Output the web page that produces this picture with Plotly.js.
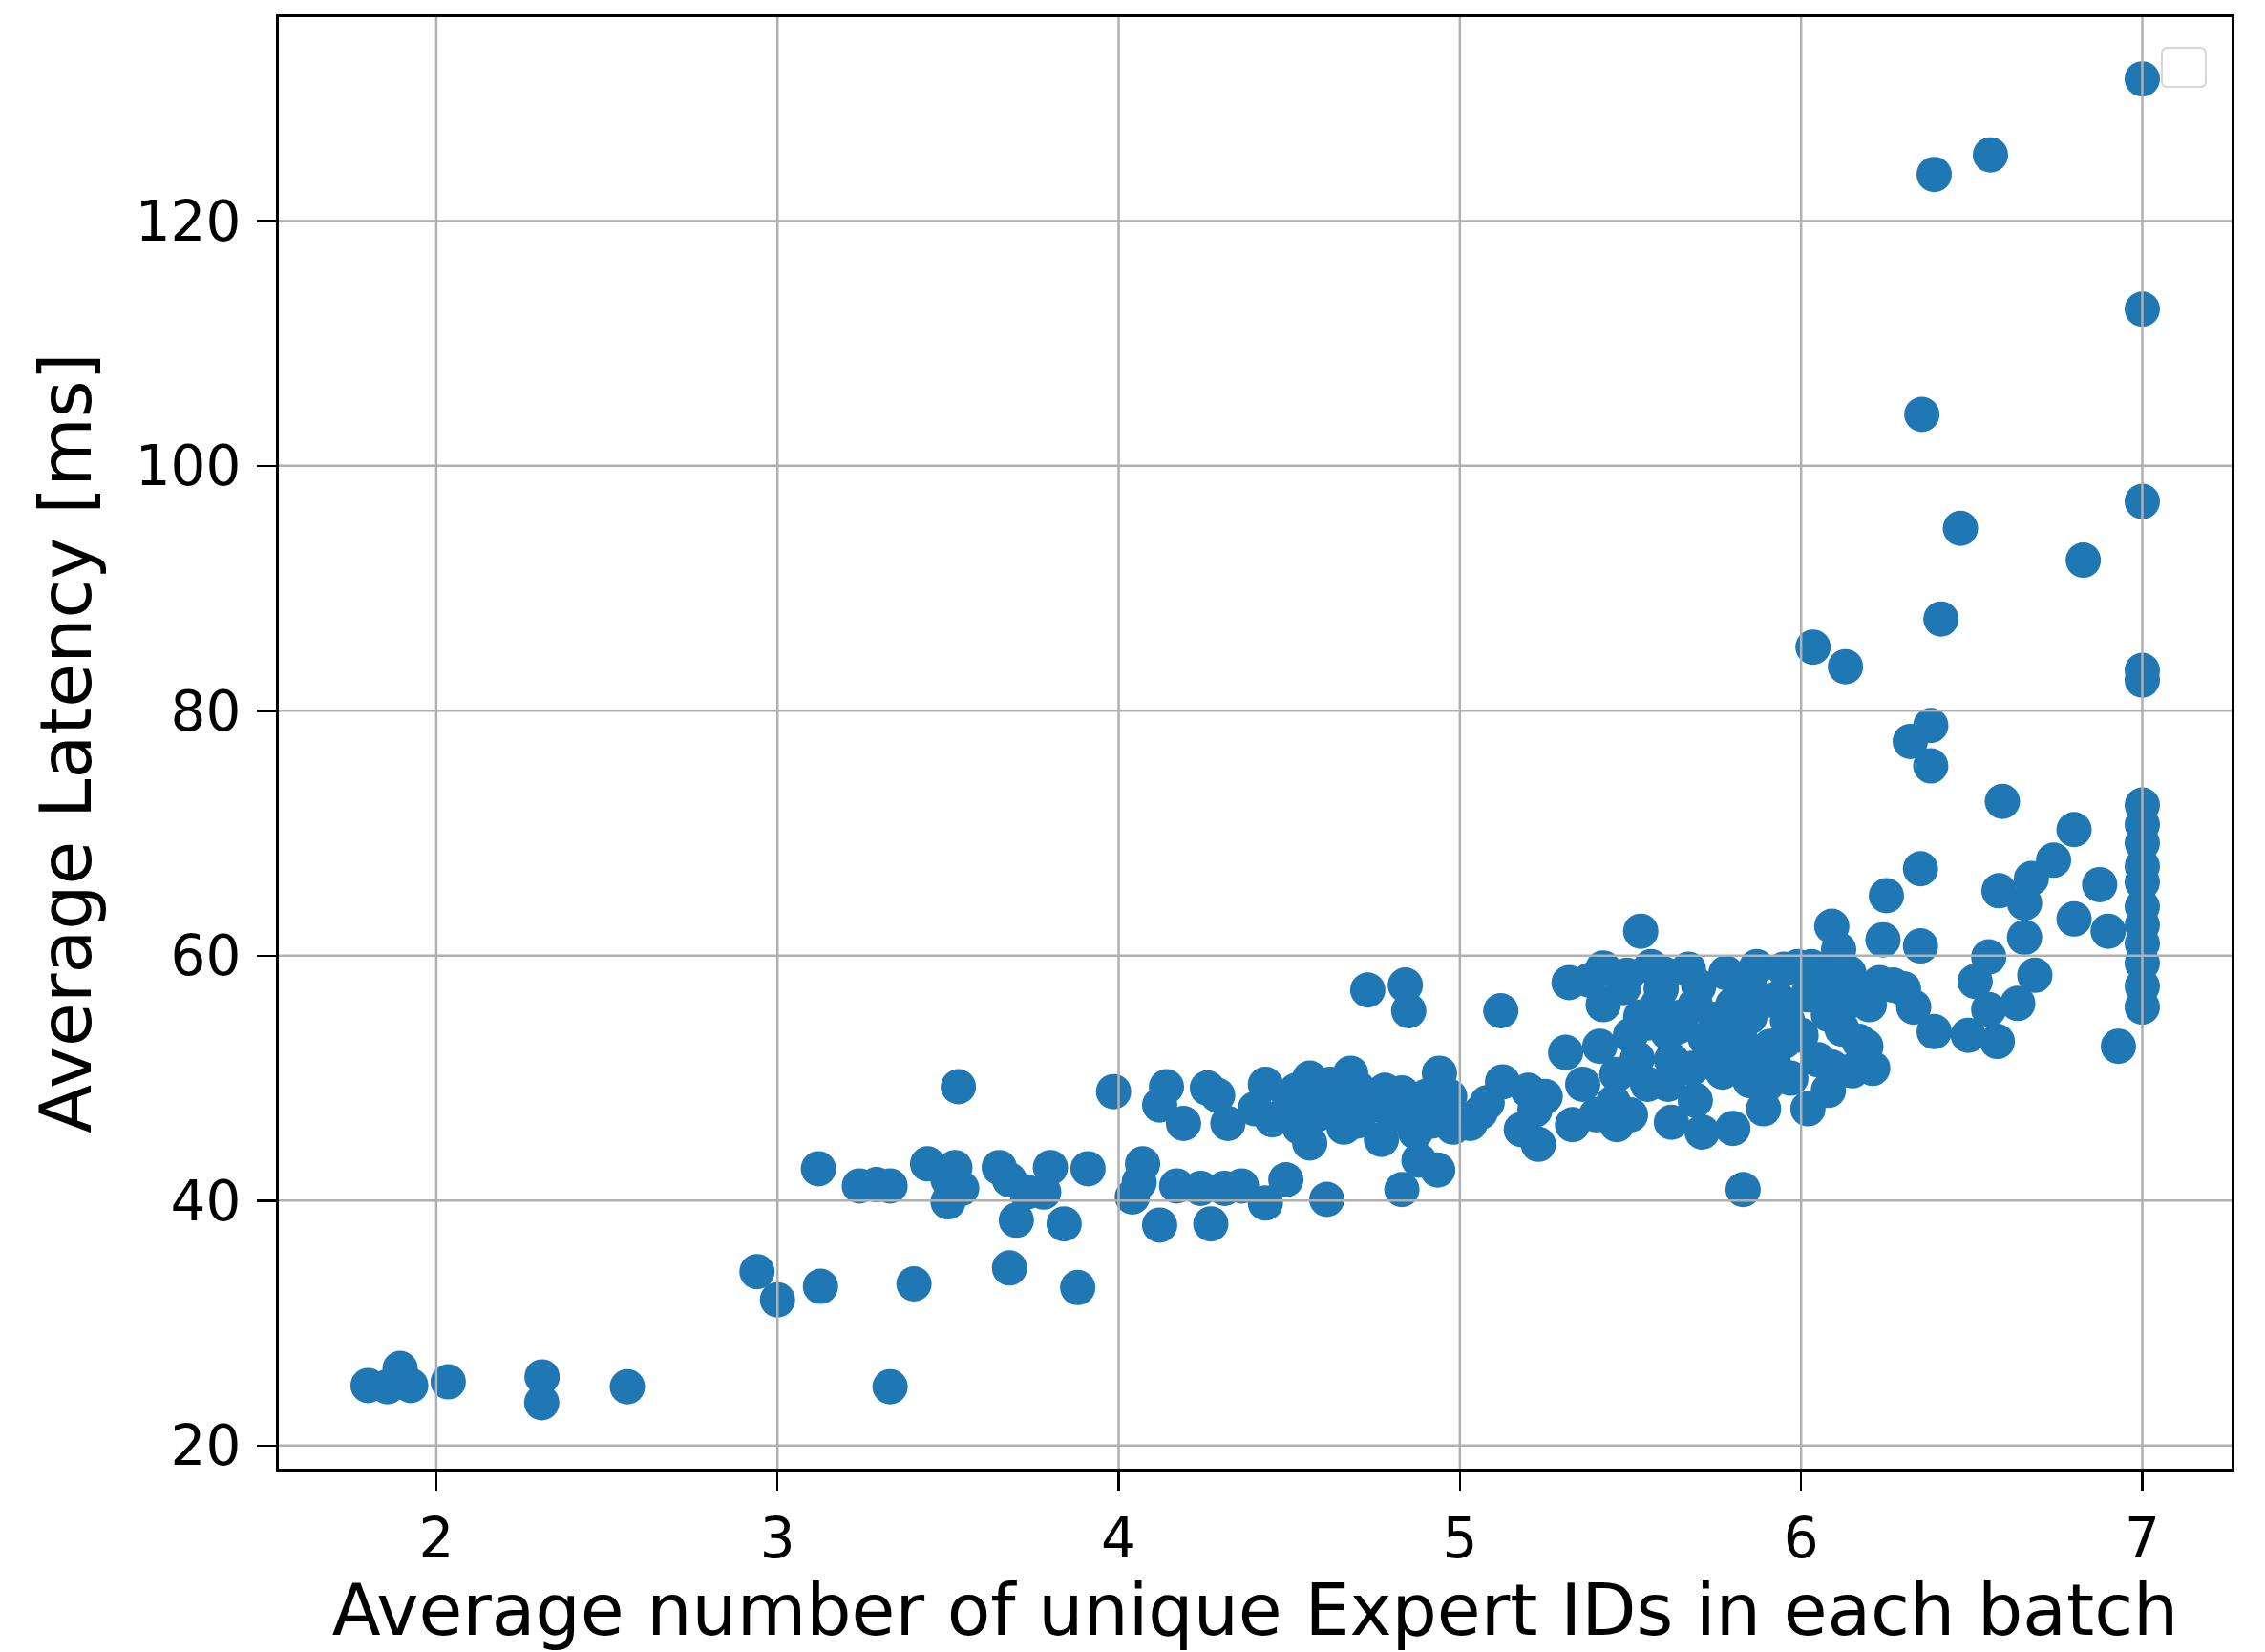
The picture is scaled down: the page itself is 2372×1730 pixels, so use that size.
<!DOCTYPE html>
<html>
<head>
<meta charset="utf-8">
<script src="https://cdn.plot.ly/plotly-3.0.1.min.js"></script>
<style>html,body{margin:0;padding:0;background:#fff;}#chart{width:2372px;height:1730px;}</style>
</head>
<body>
<div id="chart"></div>
<script>
// Average number of unique Expert IDs in each batch
const xVals = [
1.80,1.857,1.894,1.925,2.035,2.31,2.309,2.56,2.94,3.00,
3.12,3.126,3.24,3.29,3.33,3.33,3.40,3.44,3.50,3.50,
3.52,3.54,3.53,3.65,3.68,3.68,3.70,3.73,3.78,3.80,
3.84,3.88,3.91,3.985,4.04,4.06,4.07,4.12,4.12,4.14,
4.17,4.19,4.24,4.26,4.27,4.29,4.31,4.32,4.36,4.43,
4.43,4.45,4.49,4.50,4.56,4.56,4.60,4.61,4.64,4.68,
4.70,4.73,4.73,4.77,4.78,4.81,4.83,4.84,4.85,4.85,
4.87,4.88,4.90,4.935,4.94,4.95,4.98,5.03,5.06,5.08,
5.12,5.125,5.18,5.20,5.22,5.23,5.25,5.31,5.32,5.33,
5.36,5.41,5.42,5.46,5.46,5.48,5.49,5.52,5.53,5.53,
5.56,5.58,5.59,5.61,5.61,5.62,5.64,5.67,5.69,5.69,
5.71,5.72,5.75,5.78,5.80,5.80,5.80,5.83,5.85,5.87,
5.87,5.89,5.89,5.91,5.92,5.95,5.96,5.99,6.00,6.02,
6.02,6.03,6.035,6.08,6.08,6.09,6.09,6.09,6.13,6.13,
6.14,6.15,6.17,6.19,6.21,6.23,6.24,6.25,6.27,6.30,
6.32,6.33,6.35,6.35,6.354,6.38,6.38,6.39,6.39,6.41,
6.467,6.49,6.51,6.55,6.55,6.555,6.575,6.58,6.59,6.635,
6.655,6.655,6.675,6.685,6.74,6.80,6.80,6.827,6.875,6.90,
6.93,7,7,7,7,7,7,7,7,7,
7,7,7,7,7,7,7,
5.55,5.65,5.75,5.85,5.93,5.70,5.60,5.82,5.95,5.50,
5.42,5.38,5.62,5.68,5.55,5.45,5.40,5.50,5.85,5.77,
6.05,6.12,6.05,6.18,6.11,6.20,5.97,5.90,
4.40,4.53,4.62,4.66,4.75,4.83,4.92,4.97,4.88,4.52,
4.70,4.58
];
// Average Latency [ms]
const yVals = [
24.9,24.8,26.3,24.9,25.2,25.6,23.5,24.8,34.2,31.9,
42.6,33.0,41.2,41.3,41.2,24.8,33.2,43.0,39.9,41.7,
42.7,41.0,49.3,42.7,41.7,34.5,38.4,40.7,40.7,42.7,
38.1,32.9,42.6,48.9,40.3,41.5,43.0,38.0,47.8,49.3,
41.2,46.3,41.0,49.2,38.1,48.6,41.0,46.3,41.2,39.8,
49.5,46.6,41.7,47.8,50.0,44.7,48.6,40.1,47.5,50.4,
46.5,48.3,57.2,45.0,49.0,47.0,40.9,57.6,55.5,47.5,
45.6,43.3,48.5,42.5,50.4,47.0,46.0,46.3,47.2,48.0,
55.5,49.7,45.8,49.0,47.4,44.6,48.5,52.1,57.8,46.2,
49.5,52.6,59.0,50.3,46.2,57.4,58.4,51.6,62.0,55.0,
59.1,56.0,57.3,49.5,53.7,46.4,54.2,58.9,56.0,48.2,
45.6,53.2,52.1,58.6,56.0,52.1,45.9,40.9,57.4,59.1,
51.6,56.3,47.5,52.6,51.1,58.9,54.7,59.1,53.5,56.8,
47.5,59.1,85.2,55.2,49.0,62.4,58.1,50.9,83.6,56.1,
58.6,50.6,53.0,52.6,50.8,57.8,61.3,64.9,57.6,57.3,
77.5,55.8,67.1,60.8,104.2,78.8,75.5,53.8,123.8,87.5,
94.9,53.5,57.9,59.9,55.6,125.4,53.0,65.3,72.6,56.1,
64.3,61.5,66.3,58.4,67.8,70.3,63.0,92.3,65.8,62.0,
52.6,55.8,57.5,59.4,61.0,62.5,64.0,66.0,67.3,69.2,
70.7,72.3,82.5,83.3,97.1,112.8,131.6,
54.5,55.0,54.8,55.0,56.5,57.5,58.5,53.5,53.0,53.5,
56.0,58.0,51.5,50.8,49.5,48.0,47.0,47.0,49.8,50.5,
51.5,54.0,57.5,57.0,60.5,56.0,50.0,49.5,
47.5,46.0,49.5,46.0,47.8,48.8,46.5,48.5,47.2,49.0,
49.2,47.0
];
const xTicks = [2,3,4,5,6,7];
const yTicks = [20,40,60,80,100,120];
const xTitle = 'Average number of unique Expert IDs in each batch';
const yTitle = 'Average Latency [ms]';

const font = 'DejaVu Sans';
const gridColor = '#b0b0b0';

const shapes = [];
xTicks.forEach(v => shapes.push({type:'line', xref:'x', yref:'paper', x0:v, x1:v, y0:0, y1:1, layer:'above', line:{color:gridColor, width:2.5}}));
yTicks.forEach(v => shapes.push({type:'line', xref:'paper', yref:'y', x0:0, x1:1, y0:v, y1:v, layer:'above', line:{color:gridColor, width:2.5}}));
// empty legend box (top right)
const lx0=0.9643, lx1=0.9868, ly0=0.952, ly1=0.979, rx=0.003, ry=0.004;
shapes.push({type:'path', xref:'paper', yref:'paper', layer:'above',
  path:`M ${lx0+rx},${ly1} L ${lx1-rx},${ly1} Q ${lx1},${ly1} ${lx1},${ly1-ry} L ${lx1},${ly0+ry} Q ${lx1},${ly0} ${lx1-rx},${ly0} L ${lx0+rx},${ly0} Q ${lx0},${ly0} ${lx0},${ly0+ry} L ${lx0},${ly1-ry} Q ${lx0},${ly1} ${lx0+rx},${ly1} Z`,
  fillcolor:'rgba(255,255,255,0.8)', line:{color:'#d6d6d6', width:2}});

const trace = {
  x: xVals, y: yVals, type:'scatter', mode:'markers',
  marker:{color:'#1f77b4', size:37, line:{width:0}},
  showlegend:false, hoverinfo:'skip'
};

const layout = {
  width:2372, height:1730,
  paper_bgcolor:'#ffffff', plot_bgcolor:'#ffffff',
  margin:{l:292, r:35, t:18, b:191.5, pad:0},
  font:{family:font, color:'#000000', size:58},
  showlegend:false,
  shapes: shapes,
  xaxis:{
    range:[1.5385, 7.2617], tickvals:xTicks, ticktext:xTicks.map(String),
    showgrid:false, zeroline:false,
    showline:true, mirror:true, linecolor:'#000000', linewidth:3,
    ticks:'outside', ticklen:20, tickwidth:2.5, tickcolor:'#000000',
    tickfont:{family:font, size:58, color:'#000000'},
    title:{text:xTitle, font:{family:font, size:74.5, color:'#000000'}, standoff:26}
  },
  yaxis:{
    range:[18.11, 136.64], tickvals:yTicks, ticktext:yTicks.map(String),
    showgrid:false, zeroline:false,
    showline:true, mirror:true, linecolor:'#000000', linewidth:3,
    ticks:'outside', ticklen:20, tickwidth:2.5, tickcolor:'#000000',
    ticklabelstandoff:5,
    tickfont:{family:font, size:58, color:'#000000'},
    title:{text:yTitle, font:{family:font, size:74.5, color:'#000000'}, standoff:22}
  }
};

Plotly.newPlot('chart', [trace], layout, {displayModeBar:false, staticPlot:true});
</script>
</body>
</html>
